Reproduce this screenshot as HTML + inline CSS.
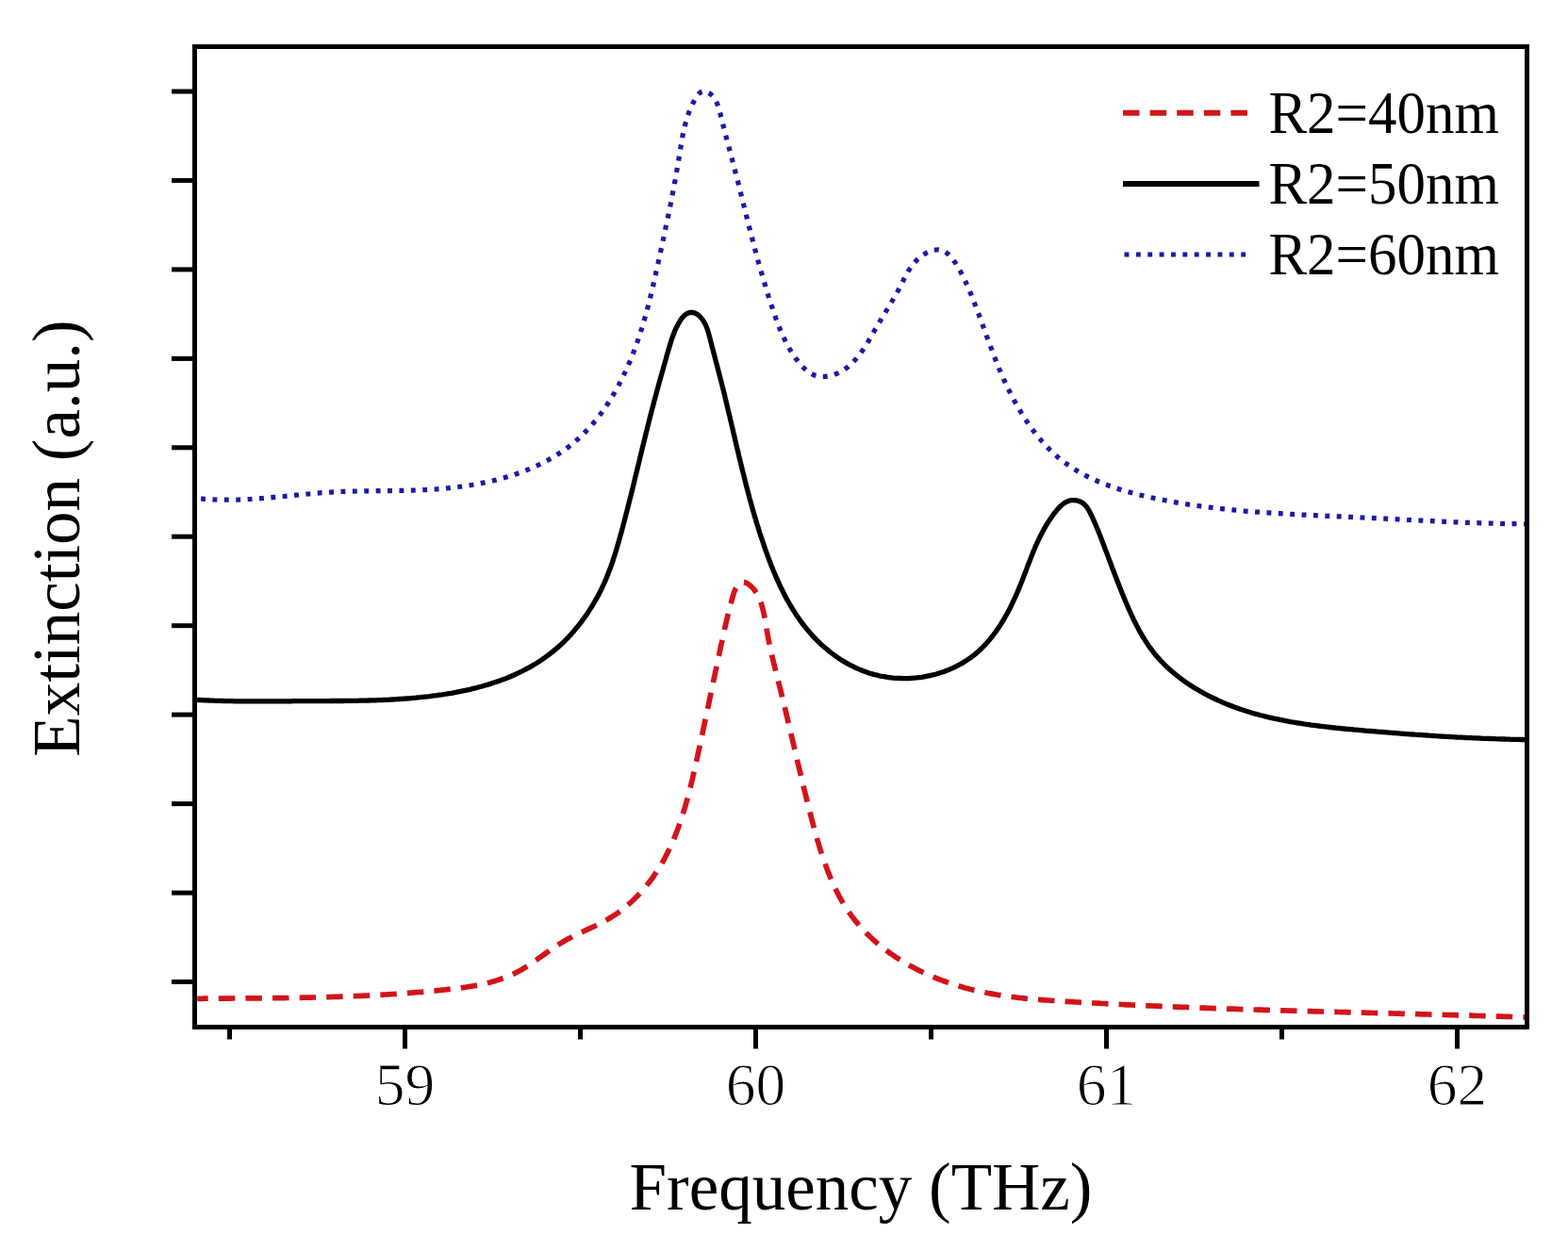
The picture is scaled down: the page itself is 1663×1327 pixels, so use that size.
<!DOCTYPE html>
<html><head><meta charset="utf-8"><title>Extinction vs Frequency</title>
<style>html,body{margin:0;padding:0;background:#fff;}body{width:1663px;height:1327px;overflow:hidden;}svg{display:block;}</style>
</head><body>
<svg width="1663" height="1327" viewBox="0 0 1663 1327">
<rect width="1663" height="1327" fill="#fff"/>
<g fill="none" stroke-linejoin="round">
<path d="M209.2 1059.3L211.6 1059.3 214.1 1059.3 216.6 1059.2 219.1 1059.2 221.5 1059.2 224.0 1059.2 226.5 1059.2 229.0 1059.2 231.5 1059.1 234.0 1059.1 236.4 1059.1 238.9 1059.1 241.4 1059.1 243.9 1059.1 246.4 1059.0 248.9 1059.0 251.4 1059.0 253.9 1059.0 256.4 1059.0 258.9 1059.0 261.4 1058.9 263.9 1058.9 266.4 1058.9 268.9 1058.9 271.4 1058.9 273.9 1058.8 276.4 1058.8 278.9 1058.8 281.4 1058.8 283.9 1058.7 286.4 1058.7 288.9 1058.7 291.4 1058.7 293.9 1058.6 296.4 1058.6 298.9 1058.6 301.4 1058.6 303.9 1058.5 306.4 1058.5 308.9 1058.4 311.4 1058.4 313.9 1058.4 316.4 1058.3 318.9 1058.3 321.4 1058.2 323.9 1058.2 326.4 1058.1 328.9 1058.1 331.5 1058.0 334.0 1058.0 336.5 1057.9 339.0 1057.9 341.5 1057.8 344.0 1057.7 346.5 1057.7 349.0 1057.6 351.5 1057.5 354.0 1057.4 356.4 1057.4 358.9 1057.3 361.4 1057.2 363.9 1057.1 366.4 1057.0 368.9 1056.9 371.4 1056.8 373.9 1056.7 376.4 1056.6 378.9 1056.5 381.4 1056.4 383.9 1056.3 386.4 1056.2 388.9 1056.1 391.4 1056.0 393.8 1055.8 396.3 1055.7 398.8 1055.6 401.3 1055.4 403.8 1055.3 406.3 1055.1 408.8 1055.0 411.3 1054.8 413.8 1054.7 416.3 1054.5 418.8 1054.4 421.3 1054.2 423.8 1054.0 426.2 1053.9 428.7 1053.7 431.2 1053.5 433.7 1053.3 436.2 1053.1 438.7 1052.9 441.2 1052.7 443.7 1052.5 446.2 1052.3 448.7 1052.1 451.2 1051.9 453.7 1051.7 456.2 1051.4 458.7 1051.2 461.3 1051.0 463.8 1050.7 466.3 1050.5 468.8 1050.2 471.3 1050.0 473.8 1049.7 476.3 1049.4 478.8 1049.2 481.3 1048.9 483.9 1048.6 486.4 1048.3 488.9 1047.9 491.4 1047.6 493.9 1047.2 496.3 1046.8 498.8 1046.4 501.3 1046.0 503.8 1045.6 506.2 1045.1 508.7 1044.6 511.1 1044.1 513.6 1043.6 516.0 1043.0 518.4 1042.4 520.8 1041.7 523.2 1041.1 525.6 1040.4 527.9 1039.6 530.3 1038.8 532.6 1038.0 534.9 1037.2 537.2 1036.3 539.5 1035.3 541.8 1034.4 544.0 1033.3 546.2 1032.3 548.4 1031.1 550.6 1030.0 552.8 1028.8 554.9 1027.5 557.1 1026.2 559.2 1024.9 561.3 1023.5 563.4 1022.1 565.5 1020.7 567.5 1019.2 569.6 1017.8 571.7 1016.3 573.7 1014.9 575.8 1013.4 577.8 1011.9 579.9 1010.4 582.0 1009.0 584.0 1007.5 586.1 1006.1 588.2 1004.7 590.3 1003.3 592.4 1001.9 594.5 1000.6 596.7 999.3 598.8 998.0 601.0 996.8 603.2 995.6 605.4 994.5 607.6 993.3 609.8 992.2 612.0 991.2 614.3 990.1 616.5 989.0 618.7 988.0 621.0 986.9 623.2 985.9 625.4 984.9 627.7 983.8 629.9 982.8 632.1 981.7 634.3 980.6 636.5 979.5 638.7 978.4 640.9 977.2 643.1 976.0 645.2 974.8 647.3 973.5 649.4 972.2 651.5 970.9 653.6 969.5 655.6 968.1 657.6 966.6 659.6 965.1 661.6 963.6 663.5 962.0 665.4 960.4 667.3 958.7 669.2 957.0 671.0 955.3 672.8 953.6 674.6 951.8 676.4 950.0 678.1 948.2 679.8 946.4 681.5 944.5 683.1 942.6 684.7 940.7 686.3 938.7 687.8 936.8 689.4 934.8 690.9 932.8 692.3 930.8 693.7 928.7 695.1 926.7 696.5 924.6 697.8 922.6 699.1 920.5 700.4 918.4 701.7 916.2 702.9 914.1 704.1 912.0 705.3 909.8 706.4 907.6 707.5 905.4 708.6 903.2 709.7 901.0 710.8 898.8 711.8 896.5 712.8 894.3 713.8 892.0 714.7 889.8 715.7 887.5 716.6 885.2 717.5 882.9 718.4 880.6 719.3 878.2 720.1 875.9 720.9 873.6 721.7 871.2 722.5 868.9 723.3 866.5 724.1 864.1 724.8 861.7 725.5 859.3 726.3 856.9 727.0 854.5 727.7 852.1 728.3 849.7 729.0 847.3 729.7 844.9 730.3 842.4 730.9 840.0 731.6 837.6 732.2 835.1 732.8 832.7 733.4 830.2 734.0 827.8 734.6 825.3 735.1 822.8 735.7 820.4 736.3 817.9 736.8 815.4 737.4 813.0 737.9 810.5 738.5 808.0 739.0 805.6 739.6 803.1 740.1 800.6 740.6 798.1 741.2 795.7 741.7 793.2 742.2 790.7 742.8 788.3 743.3 785.8 743.8 783.3 744.4 780.9 744.9 778.4 745.4 775.9 745.9 773.5 746.5 771.0 747.0 768.5 747.5 766.1 748.0 763.6 748.6 761.2 749.1 758.7 749.6 756.2 750.1 753.8 750.6 751.3 751.2 748.9 751.7 746.4 752.2 744.0 752.7 741.5 753.2 739.1 753.7 736.7 754.2 734.2 754.8 731.8 755.3 729.3 755.8 726.9 756.3 724.5 756.8 722.0 757.3 719.6 757.8 717.2 758.3 714.8 758.8 712.3 759.4 709.9 759.9 707.5 760.4 705.1 760.9 702.7 761.4 700.3 761.9 697.9 762.4 695.5 762.9 693.1 763.4 690.7 763.9 688.3 764.4 685.9 764.9 683.5 765.5 681.1 766.0 678.7 766.5 676.3 767.0 674.0 767.5 671.6 768.1 669.1 768.6 666.7 769.2 664.3 769.7 661.9 770.3 659.4 770.9 657.0 771.5 654.5 772.1 652.0 772.7 649.5 773.4 647.0 774.0 644.4 774.7 641.9 775.4 639.3 776.1 636.7 776.8 634.0 777.6 631.4 778.4 628.8 779.4 626.3 780.5 623.9 781.8 621.8 783.4 619.9 785.2 618.4 787.1 617.5 789.2 617.5 791.2 618.2 793.2 619.3 795.1 620.7 796.8 622.2 798.4 623.8 799.9 625.6 801.2 627.4 802.5 629.3 803.6 631.4 804.7 633.5 805.6 635.7 806.5 638.0 807.3 640.3 808.1 642.7 808.8 645.2 809.4 647.7 810.0 650.3 810.5 652.8 811.0 655.4 811.5 658.1 812.0 660.7 812.4 663.4 812.9 666.0 813.3 668.7 813.8 671.3 814.2 673.9 814.7 676.5 815.2 679.1 815.7 681.6 816.2 684.2 816.8 686.7 817.3 689.2 817.9 691.7 818.4 694.2 819.0 696.7 819.6 699.1 820.2 701.6 820.8 704.0 821.4 706.4 822.0 708.9 822.6 711.3 823.2 713.7 823.8 716.1 824.4 718.5 825.0 720.9 825.6 723.3 826.2 725.7 826.8 728.1 827.4 730.4 828.0 732.8 828.6 735.2 829.2 737.6 829.8 740.0 830.4 742.4 831.0 744.8 831.5 747.2 832.1 749.6 832.7 752.0 833.3 754.4 833.8 756.8 834.4 759.2 835.0 761.5 835.5 763.9 836.1 766.3 836.7 768.7 837.3 771.1 837.8 773.5 838.4 775.9 838.9 778.3 839.5 780.7 840.1 783.1 840.6 785.5 841.2 787.9 841.8 790.3 842.3 792.8 842.9 795.2 843.5 797.6 844.0 800.0 844.6 802.4 845.2 804.8 845.7 807.2 846.3 809.6 846.9 812.0 847.4 814.5 848.0 816.9 848.6 819.3 849.2 821.7 849.7 824.1 850.3 826.6 850.9 829.0 851.5 831.4 852.1 833.8 852.7 836.3 853.3 838.7 853.9 841.1 854.5 843.6 855.1 846.0 855.7 848.5 856.3 850.9 856.9 853.3 857.5 855.8 858.1 858.2 858.8 860.7 859.4 863.1 860.0 865.6 860.7 868.0 861.3 870.5 862.0 873.0 862.6 875.4 863.3 877.9 863.9 880.3 864.6 882.8 865.3 885.3 866.0 887.7 866.7 890.2 867.4 892.6 868.2 895.1 868.9 897.5 869.6 899.9 870.4 902.4 871.2 904.8 872.0 907.2 872.8 909.6 873.6 912.0 874.4 914.4 875.3 916.8 876.1 919.2 877.0 921.5 877.9 923.9 878.8 926.2 879.8 928.5 880.7 930.9 881.7 933.2 882.7 935.5 883.7 937.7 884.8 940.0 885.8 942.3 886.9 944.5 888.0 946.7 889.2 948.9 890.3 951.1 891.5 953.3 892.7 955.4 894.0 957.5 895.2 959.6 896.5 961.7 897.9 963.8 899.2 965.8 900.6 967.9 902.0 969.9 903.4 971.9 904.9 973.8 906.4 975.7 907.9 977.7 909.5 979.5 911.1 981.4 912.7 983.2 914.3 985.1 916.0 986.9 917.7 988.6 919.4 990.4 921.2 992.1 923.0 993.8 924.8 995.5 926.6 997.2 928.4 998.8 930.3 1000.4 932.2 1002.0 934.1 1003.6 936.1 1005.1 938.0 1006.7 940.0 1008.2 942.0 1009.6 944.0 1011.1 946.1 1012.5 948.1 1013.9 950.2 1015.3 952.3 1016.7 954.4 1018.0 956.5 1019.3 958.7 1020.6 960.9 1021.9 963.0 1023.2 965.2 1024.4 967.4 1025.6 969.7 1026.8 971.9 1028.0 974.2 1029.1 976.4 1030.2 978.7 1031.3 981.0 1032.4 983.3 1033.4 985.6 1034.5 987.9 1035.5 990.2 1036.5 992.6 1037.4 994.9 1038.4 997.3 1039.3 999.7 1040.2 1002.0 1041.0 1004.4 1041.9 1006.8 1042.7 1009.2 1043.5 1011.6 1044.3 1014.0 1045.1 1016.4 1045.8 1018.8 1046.5 1021.3 1047.2 1023.7 1047.9 1026.1 1048.5 1028.5 1049.2 1031.0 1049.8 1033.4 1050.4 1035.9 1050.9 1038.3 1051.5 1040.7 1052.0 1043.2 1052.5 1045.6 1053.0 1048.1 1053.5 1050.5 1053.9 1053.0 1054.4 1055.5 1054.8 1057.9 1055.2 1060.4 1055.6 1062.9 1056.0 1065.3 1056.3 1067.8 1056.7 1070.3 1057.0 1072.8 1057.4 1075.2 1057.7 1077.7 1058.0 1080.2 1058.3 1082.7 1058.5 1085.2 1058.8 1087.6 1059.1 1090.1 1059.3 1092.6 1059.5 1095.1 1059.8 1097.6 1060.0 1100.1 1060.2 1102.6 1060.4 1105.1 1060.6 1107.6 1060.8 1110.1 1061.0 1112.6 1061.2 1115.1 1061.3 1117.6 1061.5 1120.1 1061.7 1122.5 1061.8 1125.0 1062.0 1127.5 1062.1 1130.0 1062.3 1132.5 1062.4 1135.0 1062.6 1137.5 1062.7 1140.0 1062.9 1142.5 1063.0 1145.0 1063.2 1147.5 1063.3 1150.0 1063.4 1152.5 1063.6 1155.0 1063.7 1157.5 1063.8 1160.0 1064.0 1162.5 1064.1 1165.0 1064.2 1167.5 1064.4 1170.0 1064.5 1172.5 1064.6 1175.0 1064.8 1177.5 1064.9 1180.0 1065.0 1182.5 1065.1 1185.0 1065.3 1187.5 1065.4 1190.0 1065.5 1192.5 1065.6 1195.0 1065.8 1197.5 1065.9 1200.0 1066.0 1202.5 1066.1 1205.0 1066.2 1207.5 1066.3 1210.0 1066.5 1212.5 1066.6 1215.0 1066.7 1217.5 1066.8 1220.0 1066.9 1222.5 1067.0 1225.0 1067.1 1227.5 1067.2 1230.0 1067.3 1232.5 1067.4 1235.0 1067.5 1237.5 1067.6 1240.0 1067.8 1242.5 1067.9 1245.0 1068.0 1247.5 1068.1 1250.0 1068.2 1252.5 1068.3 1255.0 1068.4 1257.5 1068.4 1260.0 1068.5 1262.5 1068.6 1265.0 1068.7 1267.5 1068.8 1270.0 1068.9 1272.5 1069.0 1274.9 1069.1 1277.4 1069.2 1279.9 1069.3 1282.4 1069.4 1284.9 1069.5 1287.4 1069.6 1289.9 1069.6 1292.4 1069.7 1294.9 1069.8 1297.4 1069.9 1299.9 1070.0 1302.4 1070.1 1304.9 1070.2 1307.4 1070.2 1309.9 1070.3 1312.4 1070.4 1314.9 1070.5 1317.4 1070.6 1319.9 1070.6 1322.4 1070.7 1324.9 1070.8 1327.4 1070.9 1329.9 1071.0 1332.4 1071.0 1334.9 1071.1 1337.4 1071.2 1339.9 1071.3 1342.4 1071.3 1344.9 1071.4 1347.4 1071.5 1349.9 1071.6 1352.4 1071.6 1354.9 1071.7 1357.4 1071.8 1359.9 1071.9 1362.4 1071.9 1364.9 1072.0 1367.4 1072.1 1369.9 1072.1 1372.4 1072.2 1374.9 1072.3 1377.4 1072.4 1379.9 1072.4 1382.4 1072.5 1384.9 1072.6 1387.4 1072.6 1389.9 1072.7 1392.4 1072.8 1394.9 1072.8 1397.4 1072.9 1399.9 1073.0 1402.4 1073.0 1404.9 1073.1 1407.4 1073.2 1409.9 1073.2 1412.4 1073.3 1414.9 1073.4 1417.4 1073.4 1419.9 1073.5 1422.4 1073.6 1424.9 1073.6 1427.4 1073.7 1429.8 1073.8 1432.3 1073.8 1434.8 1073.9 1437.3 1074.0 1439.8 1074.0 1442.3 1074.1 1444.8 1074.2 1447.3 1074.2 1449.8 1074.3 1452.3 1074.4 1454.8 1074.4 1457.3 1074.5 1459.8 1074.6 1462.3 1074.6 1464.8 1074.7 1467.3 1074.7 1469.8 1074.8 1472.3 1074.9 1474.8 1074.9 1477.3 1075.0 1479.8 1075.1 1482.3 1075.1 1484.8 1075.2 1487.3 1075.3 1489.8 1075.3 1492.3 1075.4 1494.8 1075.5 1497.3 1075.5 1499.8 1075.6 1502.3 1075.7 1504.8 1075.7 1507.3 1075.8 1509.8 1075.9 1512.3 1075.9 1514.8 1076.0 1517.3 1076.1 1519.8 1076.1 1522.3 1076.2 1524.8 1076.3 1527.3 1076.3 1529.8 1076.4 1532.3 1076.5 1534.8 1076.5 1537.3 1076.6 1539.8 1076.7 1542.3 1076.7 1544.8 1076.8 1547.3 1076.9 1549.8 1077.0 1552.3 1077.0 1554.8 1077.1 1557.3 1077.2 1559.8 1077.2 1562.3 1077.3 1564.8 1077.4 1567.3 1077.5 1569.8 1077.5 1572.3 1077.6 1574.8 1077.7 1577.3 1077.8 1579.8 1077.8 1582.3 1077.9 1584.8 1078.0 1587.3 1078.1 1589.8 1078.1 1592.3 1078.2 1594.8 1078.3 1597.4 1078.4 1599.9 1078.4 1602.4 1078.5 1604.9 1078.6 1607.4 1078.7 1609.9 1078.8 1612.4 1078.9 1614.9 1078.9 1617.1 1079.0" stroke="#d2141a" stroke-width="5.7" stroke-dasharray="17.5 11.1" stroke-dashoffset="6"/>
<path d="M209.1 742.4L211.5 742.5 214.0 742.6 216.4 742.8 218.9 742.9 221.4 743.0 223.8 743.1 226.3 743.2 228.8 743.3 231.3 743.4 233.7 743.4 236.2 743.5 238.7 743.6 241.2 743.6 243.7 743.7 246.2 743.7 248.7 743.8 251.1 743.8 253.6 743.8 256.1 743.9 258.6 743.9 261.1 743.9 263.6 743.9 266.2 743.9 268.7 743.9 271.2 743.9 273.7 743.9 276.2 743.9 278.7 743.9 281.2 743.9 283.7 743.9 286.2 743.9 288.7 743.9 291.2 743.9 293.8 743.9 296.3 743.9 298.8 743.8 301.3 743.8 303.8 743.8 306.3 743.8 308.8 743.8 311.3 743.7 313.9 743.7 316.4 743.7 318.9 743.7 321.4 743.7 323.9 743.7 326.4 743.6 328.9 743.6 331.4 743.6 333.9 743.6 336.4 743.6 338.9 743.6 341.4 743.6 343.9 743.6 346.4 743.6 348.9 743.6 351.4 743.5 353.9 743.5 356.4 743.5 358.9 743.5 361.3 743.5 363.8 743.5 366.3 743.4 368.8 743.4 371.3 743.4 373.8 743.3 376.3 743.3 378.8 743.3 381.3 743.2 383.7 743.2 386.2 743.1 388.7 743.1 391.2 743.0 393.7 742.9 396.2 742.8 398.7 742.8 401.2 742.7 403.6 742.6 406.1 742.5 408.6 742.4 411.1 742.3 413.6 742.1 416.1 742.0 418.6 741.9 421.1 741.7 423.6 741.5 426.1 741.4 428.5 741.2 431.0 741.0 433.5 740.8 436.0 740.6 438.5 740.4 441.0 740.2 443.5 739.9 446.0 739.7 448.5 739.4 451.0 739.1 453.5 738.9 456.0 738.6 458.5 738.2 461.0 737.9 463.5 737.6 466.0 737.2 468.5 736.9 471.0 736.5 473.5 736.1 476.0 735.7 478.5 735.3 481.0 734.8 483.5 734.4 486.0 733.9 488.4 733.4 490.9 732.9 493.4 732.4 495.9 731.8 498.3 731.3 500.8 730.7 503.2 730.1 505.7 729.5 508.1 728.8 510.5 728.2 512.9 727.5 515.3 726.8 517.7 726.1 520.1 725.4 522.5 724.6 524.9 723.8 527.2 723.0 529.6 722.2 531.9 721.3 534.3 720.5 536.6 719.6 538.9 718.7 541.2 717.7 543.5 716.7 545.7 715.8 548.0 714.7 550.2 713.7 552.4 712.6 554.6 711.5 556.8 710.4 559.0 709.2 561.2 708.1 563.3 706.9 565.4 705.6 567.6 704.4 569.6 703.1 571.7 701.8 573.8 700.4 575.8 699.0 577.8 697.6 579.8 696.2 581.8 694.7 583.8 693.2 585.7 691.7 587.6 690.1 589.5 688.5 591.4 686.9 593.2 685.3 595.1 683.6 596.9 681.9 598.7 680.1 600.4 678.4 602.2 676.6 603.9 674.8 605.6 672.9 607.2 671.0 608.9 669.2 610.5 667.2 612.1 665.3 613.7 663.3 615.2 661.4 616.8 659.4 618.3 657.3 619.7 655.3 621.2 653.2 622.6 651.2 624.0 649.1 625.4 646.9 626.8 644.8 628.1 642.7 629.4 640.5 630.7 638.3 631.9 636.1 633.2 633.9 634.4 631.7 635.5 629.5 636.7 627.2 637.8 625.0 638.9 622.7 639.9 620.5 641.0 618.2 642.0 615.9 643.0 613.6 643.9 611.3 644.8 609.0 645.7 606.6 646.6 604.3 647.5 602.0 648.3 599.6 649.2 597.3 650.0 594.9 650.7 592.6 651.5 590.2 652.3 587.8 653.0 585.5 653.7 583.1 654.4 580.7 655.1 578.3 655.8 575.9 656.5 573.5 657.2 571.1 657.8 568.7 658.5 566.3 659.2 563.9 659.8 561.5 660.5 559.1 661.1 556.7 661.7 554.3 662.4 551.8 663.0 549.4 663.6 547.0 664.3 544.6 664.9 542.2 665.5 539.7 666.1 537.3 666.7 534.9 667.3 532.5 667.9 530.0 668.6 527.6 669.2 525.2 669.8 522.7 670.4 520.3 671.0 517.9 671.6 515.4 672.2 513.0 672.7 510.6 673.3 508.1 673.9 505.7 674.5 503.3 675.1 500.8 675.7 498.4 676.3 496.0 676.9 493.5 677.5 491.1 678.1 488.6 678.6 486.2 679.2 483.8 679.8 481.3 680.4 478.9 681.0 476.5 681.6 474.0 682.2 471.6 682.8 469.2 683.4 466.7 684.0 464.3 684.6 461.9 685.2 459.5 685.8 457.0 686.4 454.6 687.0 452.2 687.6 449.8 688.2 447.3 688.8 444.9 689.4 442.5 690.1 440.1 690.7 437.7 691.3 435.2 691.9 432.8 692.6 430.4 693.2 428.0 693.8 425.6 694.5 423.2 695.1 420.8 695.8 418.4 696.4 416.0 697.1 413.6 697.7 411.2 698.4 408.8 699.0 406.4 699.7 404.0 700.4 401.6 701.0 399.2 701.7 396.8 702.4 394.4 703.1 392.0 703.7 389.6 704.4 387.2 705.1 384.8 705.8 382.4 706.5 380.0 707.1 377.6 707.8 375.2 708.5 372.8 709.2 370.4 709.9 368.0 710.6 365.6 711.4 363.2 712.1 360.8 712.9 358.4 713.8 356.0 714.7 353.7 715.6 351.3 716.6 349.0 717.7 346.7 718.9 344.4 720.2 342.2 721.5 340.0 723.0 337.8 724.6 335.9 726.3 334.2 728.3 332.8 730.4 331.9 732.6 331.4 734.8 331.5 737.0 332.1 739.1 333.2 741.1 334.7 742.9 336.5 744.6 338.4 746.0 340.4 747.3 342.6 748.4 344.8 749.4 347.2 750.3 349.5 751.1 352.0 751.8 354.4 752.4 356.9 753.1 359.4 753.7 361.9 754.4 364.3 755.0 366.8 755.6 369.3 756.3 371.7 756.9 374.2 757.5 376.6 758.2 379.0 758.8 381.4 759.4 383.9 760.1 386.3 760.7 388.7 761.3 391.1 762.0 393.5 762.6 395.9 763.2 398.3 763.8 400.7 764.4 403.1 765.1 405.5 765.7 407.9 766.3 410.3 766.9 412.7 767.5 415.1 768.1 417.5 768.7 419.9 769.2 422.3 769.8 424.7 770.4 427.1 771.0 429.6 771.6 432.0 772.1 434.4 772.7 436.8 773.3 439.2 773.9 441.6 774.4 444.1 775.0 446.5 775.6 448.9 776.1 451.3 776.7 453.7 777.3 456.2 777.8 458.6 778.4 461.0 779.0 463.4 779.5 465.9 780.1 468.3 780.7 470.7 781.2 473.2 781.8 475.6 782.4 478.0 783.0 480.4 783.5 482.9 784.1 485.3 784.7 487.7 785.3 490.1 785.9 492.6 786.5 495.0 787.1 497.4 787.7 499.8 788.3 502.3 788.9 504.7 789.5 507.1 790.1 509.5 790.7 512.0 791.3 514.4 791.9 516.8 792.6 519.2 793.2 521.6 793.8 524.1 794.5 526.5 795.1 528.9 795.8 531.3 796.5 533.7 797.1 536.1 797.8 538.5 798.5 541.0 799.2 543.4 799.9 545.8 800.6 548.2 801.3 550.6 802.0 553.0 802.7 555.4 803.5 557.8 804.2 560.2 805.0 562.6 805.7 565.0 806.5 567.4 807.3 569.7 808.1 572.1 808.9 574.5 809.7 576.9 810.5 579.3 811.3 581.6 812.1 584.0 813.0 586.4 813.9 588.8 814.7 591.1 815.6 593.5 816.5 595.8 817.4 598.2 818.3 600.5 819.3 602.9 820.2 605.2 821.2 607.5 822.2 609.8 823.1 612.2 824.2 614.5 825.2 616.7 826.2 619.0 827.3 621.3 828.4 623.6 829.5 625.8 830.6 628.0 831.7 630.3 832.9 632.5 834.0 634.7 835.2 636.9 836.5 639.0 837.7 641.2 839.0 643.3 840.2 645.4 841.6 647.6 842.9 649.6 844.2 651.7 845.6 653.8 847.0 655.8 848.4 657.8 849.9 659.8 851.4 661.8 852.9 663.8 854.4 665.7 856.0 667.6 857.6 669.5 859.2 671.4 860.8 673.3 862.5 675.1 864.2 676.9 865.9 678.7 867.7 680.4 869.5 682.2 871.3 683.9 873.2 685.6 875.1 687.2 877.0 688.8 878.9 690.4 880.9 692.0 882.9 693.5 884.9 695.0 886.9 696.4 889.0 697.9 891.1 699.2 893.2 700.6 895.4 701.9 897.5 703.2 899.7 704.4 901.9 705.6 904.2 706.7 906.4 707.8 908.7 708.9 911.0 709.9 913.3 710.8 915.6 711.8 918.0 712.6 920.3 713.4 922.7 714.2 925.1 714.9 927.5 715.6 930.0 716.2 932.4 716.8 934.9 717.3 937.4 717.7 939.8 718.1 942.3 718.5 944.8 718.8 947.3 719.1 949.8 719.3 952.4 719.4 954.9 719.5 957.4 719.6 959.9 719.6 962.4 719.6 965.0 719.5 967.5 719.3 970.0 719.1 972.5 718.9 975.0 718.6 977.5 718.3 980.0 717.9 982.4 717.4 984.9 716.9 987.4 716.4 989.8 715.8 992.2 715.2 994.6 714.5 997.0 713.8 999.4 713.0 1001.8 712.2 1004.1 711.3 1006.4 710.4 1008.7 709.4 1011.0 708.4 1013.2 707.3 1015.4 706.2 1017.6 705.0 1019.8 703.8 1021.9 702.6 1024.0 701.3 1026.0 699.9 1028.1 698.5 1030.1 697.1 1032.0 695.6 1034.0 694.1 1035.9 692.5 1037.7 690.9 1039.5 689.2 1041.3 687.5 1043.0 685.7 1044.8 684.0 1046.4 682.1 1048.1 680.3 1049.7 678.4 1051.3 676.4 1052.8 674.5 1054.3 672.5 1055.8 670.5 1057.3 668.4 1058.7 666.3 1060.1 664.2 1061.5 662.1 1062.8 660.0 1064.1 657.8 1065.4 655.6 1066.7 653.4 1067.9 651.2 1069.1 648.9 1070.3 646.7 1071.5 644.4 1072.6 642.1 1073.7 639.8 1074.8 637.5 1075.9 635.2 1077.0 632.9 1078.0 630.5 1079.0 628.2 1080.0 625.9 1081.0 623.6 1081.9 621.2 1082.9 618.9 1083.8 616.6 1084.7 614.2 1085.6 611.9 1086.5 609.6 1087.4 607.3 1088.3 605.0 1089.1 602.6 1090.0 600.3 1090.9 598.0 1091.8 595.7 1092.7 593.4 1093.6 591.1 1094.5 588.8 1095.4 586.6 1096.3 584.3 1097.3 582.0 1098.2 579.7 1099.2 577.5 1100.3 575.2 1101.3 573.0 1102.4 570.7 1103.5 568.5 1104.6 566.3 1105.8 564.1 1106.9 561.9 1108.2 559.7 1109.4 557.5 1110.7 555.4 1112.1 553.2 1113.5 551.1 1114.9 549.0 1116.4 546.9 1117.9 544.9 1119.5 542.8 1121.1 540.8 1122.8 538.9 1124.5 537.1 1126.4 535.5 1128.3 534.0 1130.2 532.8 1132.3 531.8 1134.5 531.0 1136.8 530.6 1139.2 530.6 1141.6 530.9 1144.1 531.5 1146.5 532.5 1148.6 533.8 1150.5 535.5 1152.2 537.3 1153.6 539.3 1154.9 541.5 1156.1 543.8 1157.2 546.1 1158.3 548.3 1159.4 550.6 1160.4 552.9 1161.4 555.2 1162.4 557.4 1163.3 559.7 1164.3 562.0 1165.2 564.3 1166.1 566.6 1167.0 568.8 1167.9 571.1 1168.7 573.4 1169.6 575.7 1170.5 578.0 1171.4 580.3 1172.2 582.6 1173.1 584.9 1174.0 587.3 1174.9 589.6 1175.7 591.9 1176.6 594.2 1177.5 596.5 1178.4 598.9 1179.2 601.2 1180.1 603.5 1181.0 605.8 1181.9 608.2 1182.8 610.5 1183.7 612.8 1184.6 615.2 1185.5 617.5 1186.4 619.8 1187.3 622.2 1188.3 624.5 1189.2 626.8 1190.1 629.2 1191.1 631.5 1192.0 633.8 1193.0 636.1 1193.9 638.5 1194.9 640.8 1195.9 643.1 1196.9 645.4 1197.9 647.7 1199.0 650.0 1200.0 652.3 1201.1 654.5 1202.1 656.8 1203.2 659.1 1204.4 661.3 1205.5 663.5 1206.7 665.7 1207.8 667.9 1209.0 670.1 1210.3 672.3 1211.5 674.4 1212.8 676.6 1214.1 678.7 1215.5 680.8 1216.8 682.8 1218.2 684.9 1219.6 686.9 1221.1 688.9 1222.6 690.9 1224.1 692.8 1225.7 694.8 1227.3 696.7 1228.9 698.5 1230.6 700.4 1232.3 702.2 1234.1 704.0 1235.8 705.8 1237.6 707.5 1239.5 709.2 1241.3 710.9 1243.2 712.5 1245.2 714.1 1247.1 715.7 1249.1 717.3 1251.1 718.9 1253.1 720.4 1255.2 721.9 1257.2 723.3 1259.3 724.8 1261.4 726.2 1263.5 727.5 1265.7 728.9 1267.8 730.2 1270.0 731.5 1272.2 732.8 1274.4 734.0 1276.6 735.3 1278.8 736.5 1281.0 737.6 1283.3 738.8 1285.5 739.9 1287.8 741.0 1290.0 742.0 1292.3 743.1 1294.6 744.1 1296.8 745.1 1299.1 746.1 1301.4 747.0 1303.8 747.9 1306.1 748.8 1308.4 749.7 1310.7 750.6 1313.1 751.4 1315.4 752.2 1317.8 753.0 1320.1 753.8 1322.5 754.5 1324.8 755.3 1327.2 756.0 1329.6 756.7 1332.0 757.4 1334.4 758.0 1336.8 758.7 1339.2 759.3 1341.6 759.9 1344.0 760.5 1346.4 761.1 1348.9 761.6 1351.3 762.2 1353.7 762.7 1356.2 763.2 1358.6 763.7 1361.1 764.2 1363.5 764.7 1366.0 765.1 1368.4 765.6 1370.9 766.0 1373.4 766.4 1375.8 766.8 1378.3 767.2 1380.8 767.6 1383.3 768.0 1385.7 768.4 1388.2 768.7 1390.7 769.1 1393.2 769.4 1395.7 769.7 1398.2 770.0 1400.7 770.3 1403.2 770.6 1405.7 770.9 1408.2 771.2 1410.7 771.5 1413.2 771.8 1415.7 772.0 1418.2 772.3 1420.7 772.5 1423.2 772.8 1425.7 773.0 1428.2 773.3 1430.7 773.5 1433.2 773.7 1435.7 774.0 1438.2 774.2 1440.7 774.4 1443.2 774.6 1445.7 774.8 1448.2 775.1 1450.7 775.3 1453.2 775.5 1455.7 775.7 1458.2 775.9 1460.7 776.1 1463.2 776.3 1465.7 776.5 1468.2 776.7 1470.6 776.9 1473.1 777.1 1475.6 777.3 1478.1 777.5 1480.6 777.7 1483.1 777.9 1485.6 778.1 1488.1 778.3 1490.5 778.5 1493.0 778.6 1495.5 778.8 1498.0 779.0 1500.5 779.2 1503.0 779.3 1505.5 779.5 1507.9 779.7 1510.4 779.9 1512.9 780.0 1515.4 780.2 1517.9 780.3 1520.4 780.5 1522.8 780.7 1525.3 780.8 1527.8 781.0 1530.3 781.1 1532.8 781.3 1535.2 781.4 1537.7 781.5 1540.2 781.7 1542.7 781.8 1545.2 782.0 1547.7 782.1 1550.2 782.2 1552.6 782.3 1555.1 782.5 1557.6 782.6 1560.1 782.7 1562.6 782.8 1565.1 782.9 1567.6 783.0 1570.1 783.1 1572.5 783.3 1575.0 783.4 1577.5 783.4 1580.0 783.5 1582.5 783.6 1585.0 783.7 1587.5 783.8 1590.0 783.9 1592.5 784.0 1595.0 784.0 1597.5 784.1 1600.0 784.2 1602.5 784.3 1605.0 784.3 1607.5 784.4 1610.0 784.4 1612.5 784.5 1615.0 784.5 1617.0 784.6" stroke="#000" stroke-width="5.3"/>
<path d="M208.9 528.5L211.4 528.8 213.9 529.0 216.4 529.3 218.9 529.5 221.4 529.6 223.9 529.8 226.4 529.9 228.9 530.0 231.4 530.1 233.9 530.2 236.4 530.2 238.9 530.2 241.4 530.2 243.9 530.2 246.4 530.2 248.9 530.1 251.4 530.1 253.9 530.0 256.4 529.9 258.9 529.8 261.4 529.7 263.9 529.5 266.4 529.4 268.9 529.2 271.4 529.1 273.9 528.9 276.4 528.7 279.0 528.5 281.5 528.3 284.0 528.1 286.5 527.9 289.0 527.6 291.5 527.4 294.0 527.2 296.5 526.9 299.0 526.7 301.5 526.5 304.0 526.2 306.5 526.0 309.0 525.7 311.5 525.5 314.0 525.2 316.5 525.0 319.0 524.7 321.5 524.5 324.0 524.3 326.5 524.0 329.0 523.8 331.5 523.6 334.0 523.4 336.5 523.1 339.0 522.9 341.5 522.7 344.0 522.6 346.5 522.4 349.0 522.2 351.4 522.1 353.9 521.9 356.4 521.8 358.9 521.7 361.4 521.5 363.9 521.4 366.3 521.3 368.8 521.3 371.3 521.2 373.8 521.1 376.3 521.1 378.7 521.0 381.2 520.9 383.7 520.9 386.2 520.9 388.6 520.8 391.1 520.8 393.6 520.8 396.1 520.7 398.6 520.7 401.0 520.7 403.5 520.7 406.0 520.6 408.5 520.6 410.9 520.6 413.4 520.6 415.9 520.5 418.4 520.5 420.9 520.5 423.4 520.4 425.8 520.4 428.3 520.3 430.8 520.3 433.3 520.2 435.8 520.2 438.3 520.1 440.8 520.0 443.3 519.9 445.8 519.8 448.3 519.7 450.8 519.6 453.3 519.4 455.8 519.3 458.3 519.1 460.8 519.0 463.3 518.8 465.9 518.6 468.4 518.4 470.9 518.2 473.4 517.9 475.9 517.7 478.5 517.4 481.0 517.1 483.5 516.8 486.0 516.5 488.6 516.2 491.1 515.8 493.6 515.5 496.1 515.1 498.6 514.7 501.1 514.3 503.6 513.8 506.1 513.4 508.6 512.9 511.1 512.4 513.6 511.9 516.1 511.4 518.6 510.8 521.1 510.3 523.5 509.7 526.0 509.1 528.4 508.4 530.9 507.8 533.3 507.1 535.7 506.4 538.1 505.7 540.5 505.0 542.9 504.2 545.3 503.5 547.7 502.7 550.1 501.8 552.4 501.0 554.7 500.1 557.1 499.2 559.4 498.3 561.7 497.4 564.0 496.4 566.2 495.4 568.5 494.4 570.7 493.4 572.9 492.3 575.2 491.2 577.3 490.1 579.5 488.9 581.7 487.8 583.8 486.6 585.9 485.4 588.0 484.1 590.1 482.8 592.2 481.5 594.2 480.2 596.3 478.8 598.3 477.4 600.3 476.0 602.2 474.6 604.2 473.1 606.1 471.6 608.0 470.0 609.9 468.5 611.7 466.9 613.5 465.3 615.4 463.6 617.1 461.9 618.9 460.2 620.6 458.4 622.3 456.7 624.0 454.9 625.7 453.0 627.3 451.2 629.0 449.3 630.5 447.4 632.1 445.5 633.7 443.5 635.2 441.6 636.7 439.6 638.2 437.5 639.7 435.5 641.1 433.5 642.5 431.4 643.9 429.3 645.3 427.2 646.7 425.0 648.0 422.9 649.3 420.7 650.6 418.5 651.9 416.4 653.1 414.1 654.4 411.9 655.6 409.7 656.8 407.4 657.9 405.2 659.1 402.9 660.2 400.6 661.3 398.3 662.4 396.0 663.5 393.7 664.6 391.4 665.6 389.1 666.6 386.7 667.6 384.4 668.6 382.1 669.6 379.7 670.5 377.4 671.4 375.0 672.3 372.6 673.2 370.3 674.1 367.9 675.0 365.6 675.8 363.2 676.6 360.8 677.4 358.4 678.2 356.1 679.0 353.7 679.7 351.3 680.5 348.9 681.2 346.6 681.9 344.2 682.6 341.8 683.3 339.4 684.0 337.0 684.7 334.6 685.3 332.3 686.0 329.9 686.6 327.5 687.3 325.1 687.9 322.7 688.5 320.3 689.1 317.9 689.7 315.5 690.3 313.1 690.9 310.7 691.4 308.3 692.0 305.9 692.6 303.5 693.1 301.0 693.7 298.6 694.2 296.2 694.8 293.8 695.3 291.4 695.8 289.0 696.4 286.5 696.9 284.1 697.4 281.7 698.0 279.3 698.5 276.8 699.0 274.4 699.5 272.0 700.1 269.5 700.6 267.1 701.1 264.7 701.7 262.2 702.2 259.8 702.7 257.3 703.2 254.9 703.8 252.4 704.3 250.0 704.8 247.5 705.3 245.1 705.8 242.6 706.3 240.2 706.9 237.7 707.4 235.3 707.9 232.8 708.4 230.4 708.9 227.9 709.4 225.5 709.9 223.0 710.4 220.5 710.9 218.1 711.4 215.6 711.9 213.2 712.3 210.7 712.8 208.2 713.3 205.8 713.8 203.3 714.2 200.8 714.7 198.4 715.2 195.9 715.6 193.4 716.1 191.0 716.5 188.5 717.0 186.0 717.4 183.5 717.8 181.1 718.3 178.6 718.7 176.1 719.1 173.7 719.5 171.2 719.9 168.7 720.3 166.2 720.7 163.8 721.1 161.3 721.5 158.8 721.9 156.3 722.3 153.9 722.7 151.4 723.1 148.9 723.6 146.5 724.0 144.0 724.5 141.6 725.0 139.1 725.6 136.7 726.2 134.2 726.8 131.8 727.4 129.4 728.1 126.9 728.9 124.5 729.7 122.1 730.5 119.7 731.4 117.3 732.4 114.9 733.5 112.6 734.6 110.2 735.8 107.8 737.0 105.5 738.4 103.2 739.8 101.0 741.4 99.1 743.2 97.7 745.2 97.0 747.4 96.9 749.7 97.5 751.9 98.6 753.9 100.0 755.6 101.7 757.2 103.5 758.6 105.6 759.7 107.9 760.8 110.3 761.7 112.8 762.5 115.4 763.3 118.1 764.0 120.8 764.6 123.4 765.3 126.1 765.9 128.7 766.6 131.3 767.2 133.8 767.9 136.4 768.5 138.9 769.2 141.3 769.8 143.8 770.4 146.2 771.1 148.6 771.7 151.0 772.3 153.4 772.9 155.8 773.6 158.2 774.2 160.5 774.8 162.8 775.4 165.2 776.0 167.5 776.7 169.9 777.3 172.2 777.9 174.5 778.5 176.9 779.1 179.2 779.7 181.6 780.3 184.0 780.9 186.3 781.6 188.7 782.2 191.1 782.8 193.5 783.4 196.0 784.0 198.4 784.6 200.8 785.2 203.3 785.8 205.7 786.4 208.2 787.0 210.6 787.7 213.1 788.3 215.5 788.9 218.0 789.5 220.5 790.1 222.9 790.7 225.4 791.3 227.9 792.0 230.3 792.6 232.8 793.2 235.2 793.8 237.7 794.4 240.1 795.0 242.6 795.7 245.0 796.3 247.4 796.9 249.9 797.5 252.3 798.2 254.7 798.8 257.1 799.4 259.5 800.1 262.0 800.7 264.4 801.3 266.8 802.0 269.2 802.6 271.6 803.3 274.0 803.9 276.4 804.6 278.8 805.3 281.2 805.9 283.6 806.6 286.0 807.3 288.3 808.0 290.7 808.7 293.1 809.3 295.5 810.0 297.9 810.8 300.3 811.5 302.6 812.2 305.0 812.9 307.4 813.6 309.8 814.4 312.1 815.1 314.5 815.9 316.9 816.6 319.2 817.4 321.6 818.2 324.0 819.0 326.3 819.7 328.7 820.5 331.1 821.4 333.4 822.2 335.8 823.0 338.1 823.9 340.5 824.8 342.8 825.7 345.2 826.6 347.5 827.5 349.8 828.5 352.1 829.5 354.4 830.5 356.7 831.6 359.0 832.7 361.2 833.8 363.5 835.0 365.7 836.2 367.9 837.4 370.1 838.7 372.2 840.1 374.4 841.4 376.5 842.9 378.6 844.3 380.7 845.9 382.7 847.5 384.8 849.1 386.7 850.8 388.6 852.6 390.4 854.4 392.1 856.3 393.7 858.3 395.1 860.4 396.4 862.5 397.5 864.7 398.3 867.0 398.9 869.4 399.3 871.8 399.5 874.3 399.5 876.8 399.2 879.3 398.8 881.8 398.2 884.2 397.5 886.7 396.6 889.0 395.6 891.3 394.4 893.5 393.2 895.6 391.8 897.7 390.3 899.7 388.8 901.6 387.1 903.4 385.4 905.2 383.6 906.9 381.8 908.6 379.9 910.2 377.9 911.8 375.9 913.3 373.8 914.8 371.8 916.2 369.7 917.6 367.5 918.9 365.4 920.2 363.3 921.5 361.1 922.8 359.0 924.0 356.8 925.3 354.7 926.5 352.5 927.7 350.3 928.9 348.2 930.2 346.0 931.4 343.9 932.7 341.8 934.0 339.6 935.2 337.5 936.5 335.4 937.8 333.3 939.1 331.1 940.4 329.0 941.7 326.9 942.9 324.8 944.2 322.6 945.5 320.5 946.8 318.3 948.0 316.2 949.2 314.0 950.5 311.8 951.7 309.7 952.9 307.5 954.1 305.3 955.2 303.0 956.4 300.8 957.5 298.6 958.6 296.3 959.8 294.1 961.0 291.9 962.2 289.7 963.4 287.5 964.8 285.4 966.2 283.3 967.6 281.2 969.2 279.3 970.9 277.4 972.7 275.5 974.6 273.7 976.7 272.1 978.9 270.5 981.1 269.1 983.5 267.8 985.9 266.7 988.3 265.9 990.7 265.3 993.1 265.0 995.5 264.9 997.7 265.2 999.9 265.9 1001.9 266.9 1003.9 268.2 1005.8 269.7 1007.5 271.4 1009.2 273.3 1010.8 275.4 1012.4 277.6 1013.9 279.8 1015.3 282.1 1016.6 284.4 1017.9 286.7 1019.2 289.0 1020.3 291.3 1021.5 293.5 1022.6 295.8 1023.7 298.1 1024.7 300.4 1025.8 302.7 1026.8 305.0 1027.7 307.3 1028.7 309.6 1029.7 311.9 1030.6 314.2 1031.5 316.5 1032.5 318.8 1033.4 321.1 1034.3 323.5 1035.1 325.8 1036.0 328.1 1036.9 330.4 1037.8 332.7 1038.6 335.0 1039.5 337.3 1040.3 339.7 1041.2 342.0 1042.0 344.3 1042.9 346.6 1043.7 348.9 1044.5 351.3 1045.4 353.6 1046.2 355.9 1047.1 358.2 1047.9 360.5 1048.8 362.9 1049.6 365.2 1050.5 367.5 1051.4 369.8 1052.2 372.2 1053.1 374.5 1054.0 376.8 1054.9 379.1 1055.8 381.4 1056.7 383.8 1057.6 386.1 1058.6 388.4 1059.5 390.7 1060.5 393.0 1061.5 395.3 1062.5 397.6 1063.5 399.9 1064.5 402.3 1065.6 404.6 1066.6 406.9 1067.7 409.2 1068.8 411.5 1069.9 413.7 1071.1 416.0 1072.2 418.3 1073.4 420.6 1074.6 422.8 1075.8 425.1 1077.0 427.3 1078.2 429.5 1079.5 431.7 1080.8 433.9 1082.1 436.1 1083.4 438.3 1084.7 440.5 1086.1 442.6 1087.4 444.7 1088.8 446.8 1090.3 448.9 1091.7 451.0 1093.2 453.1 1094.6 455.1 1096.1 457.1 1097.7 459.1 1099.2 461.1 1100.8 463.0 1102.4 464.9 1104.0 466.8 1105.6 468.7 1107.3 470.6 1109.0 472.4 1110.7 474.2 1112.4 476.0 1114.1 477.7 1115.9 479.4 1117.7 481.1 1119.5 482.7 1121.4 484.4 1123.2 485.9 1125.1 487.5 1127.1 489.0 1129.0 490.5 1131.0 491.9 1133.0 493.4 1135.0 494.7 1137.0 496.1 1139.1 497.4 1141.2 498.7 1143.3 500.0 1145.4 501.2 1147.6 502.4 1149.7 503.5 1151.9 504.7 1154.1 505.8 1156.4 506.9 1158.6 507.9 1160.8 509.0 1163.1 510.0 1165.4 511.0 1167.7 511.9 1170.0 512.8 1172.3 513.8 1174.7 514.6 1177.0 515.5 1179.4 516.3 1181.8 517.2 1184.2 518.0 1186.6 518.7 1189.0 519.5 1191.4 520.2 1193.8 520.9 1196.3 521.7 1198.7 522.3 1201.2 523.0 1203.6 523.6 1206.1 524.3 1208.5 524.9 1211.0 525.5 1213.5 526.1 1216.0 526.7 1218.5 527.2 1220.9 527.8 1223.4 528.3 1225.9 528.8 1228.4 529.3 1230.9 529.8 1233.4 530.3 1235.9 530.8 1238.3 531.3 1240.8 531.7 1243.3 532.2 1245.8 532.6 1248.3 533.1 1250.8 533.5 1253.2 533.9 1255.7 534.3 1258.2 534.7 1260.7 535.1 1263.2 535.4 1265.7 535.8 1268.1 536.2 1270.6 536.5 1273.1 536.9 1275.6 537.2 1278.1 537.5 1280.5 537.9 1283.0 538.2 1285.5 538.5 1288.0 538.8 1290.5 539.1 1292.9 539.3 1295.4 539.6 1297.9 539.9 1300.4 540.2 1302.8 540.4 1305.3 540.7 1307.8 540.9 1310.3 541.2 1312.8 541.4 1315.2 541.6 1317.7 541.8 1320.2 542.1 1322.7 542.3 1325.1 542.5 1327.6 542.7 1330.1 542.9 1332.6 543.1 1335.1 543.2 1337.5 543.4 1340.0 543.6 1342.5 543.8 1345.0 543.9 1347.5 544.1 1349.9 544.3 1352.4 544.4 1354.9 544.6 1357.4 544.7 1359.9 544.9 1362.3 545.0 1364.8 545.2 1367.3 545.3 1369.8 545.4 1372.3 545.6 1374.7 545.7 1377.2 545.8 1379.7 546.0 1382.2 546.1 1384.7 546.2 1387.2 546.3 1389.7 546.5 1392.1 546.6 1394.6 546.7 1397.1 546.8 1399.6 546.9 1402.1 547.0 1404.6 547.1 1407.1 547.3 1409.6 547.4 1412.1 547.5 1414.6 547.6 1417.0 547.7 1419.5 547.8 1422.0 547.9 1424.5 548.0 1427.0 548.2 1429.5 548.3 1432.0 548.4 1434.5 548.5 1437.0 548.6 1439.5 548.7 1442.0 548.8 1444.5 549.0 1447.0 549.1 1449.5 549.2 1452.0 549.3 1454.5 549.4 1457.0 549.6 1459.6 549.7 1462.1 549.8 1464.6 550.0 1467.1 550.1 1469.6 550.2 1472.1 550.3 1474.6 550.5 1477.1 550.6 1479.6 550.7 1482.1 550.8 1484.6 551.0 1487.2 551.1 1489.7 551.2 1492.2 551.4 1494.7 551.5 1497.2 551.6 1499.7 551.7 1502.2 551.9 1504.7 552.0 1507.2 552.1 1509.7 552.2 1512.3 552.4 1514.8 552.5 1517.3 552.6 1519.8 552.7 1522.3 552.9 1524.8 553.0 1527.3 553.1 1529.8 553.2 1532.3 553.3 1534.8 553.4 1537.3 553.6 1539.8 553.7 1542.3 553.8 1544.8 553.9 1547.3 554.0 1549.8 554.1 1552.3 554.2 1554.8 554.3 1557.3 554.4 1559.8 554.5 1562.3 554.6 1564.8 554.7 1567.2 554.7 1569.7 554.8 1572.2 554.9 1574.7 555.0 1577.2 555.1 1579.7 555.1 1582.1 555.2 1584.6 555.3 1587.1 555.3 1589.6 555.4 1592.0 555.5 1594.5 555.5 1597.0 555.6 1599.4 555.6 1601.9 555.7 1604.4 555.7 1606.8 555.7 1609.3 555.8 1611.7 555.8 1614.2 555.8 1616.6 555.9 1616.8 555.9" stroke="#1b1aa4" stroke-width="5.2" stroke-dasharray="4.9 7.5" stroke-dashoffset="8.2"/>
</g>
<g stroke="#000" stroke-width="5" fill="none">
<rect x="206.5" y="49.5" width="1413.0" height="1040.0"/>
</g>
<g stroke="#000" stroke-width="5">
<line x1="182" y1="97.0" x2="206" y2="97.0"/><line x1="182" y1="191.4" x2="206" y2="191.4"/><line x1="182" y1="285.9" x2="206" y2="285.9"/><line x1="182" y1="380.4" x2="206" y2="380.4"/><line x1="182" y1="474.8" x2="206" y2="474.8"/><line x1="182" y1="569.2" x2="206" y2="569.2"/><line x1="182" y1="663.7" x2="206" y2="663.7"/><line x1="182" y1="758.1" x2="206" y2="758.1"/><line x1="182" y1="852.6" x2="206" y2="852.6"/><line x1="182" y1="947.1" x2="206" y2="947.1"/><line x1="182" y1="1041.5" x2="206" y2="1041.5"/><line x1="429.5" y1="1089" x2="429.5" y2="1112.5"/><line x1="801.5" y1="1089" x2="801.5" y2="1112.5"/><line x1="1173.5" y1="1089" x2="1173.5" y2="1112.5"/><line x1="1545.5" y1="1089" x2="1545.5" y2="1112.5"/><line x1="243.5" y1="1089" x2="243.5" y2="1102.5"/><line x1="615.5" y1="1089" x2="615.5" y2="1102.5"/><line x1="987.5" y1="1089" x2="987.5" y2="1102.5"/><line x1="1359.5" y1="1089" x2="1359.5" y2="1102.5"/>
</g>
<g font-family="'Liberation Serif', 'Times New Roman', serif" fill="#000">
<g font-size="63.5" stroke="#fff" stroke-width="1.1"><text x="429.5" y="1172.3" text-anchor="middle">59</text><text x="801.5" y="1172.3" text-anchor="middle">60</text><text x="1173.5" y="1172.3" text-anchor="middle">61</text><text x="1545.5" y="1172.3" text-anchor="middle">62</text></g>
<text x="913" y="1282.7" font-size="71" text-anchor="middle">Frequency (THz)</text>
<text transform="translate(84.2 571) rotate(-90)" font-size="71" text-anchor="middle">Extinction (a.u.)</text>
<g font-size="61">
<text transform="translate(1345.4 140.6) scale(1 1.025)">R2=40nm</text>
<text transform="translate(1345.4 215.9) scale(1 1.025)">R2=50nm</text>
<text transform="translate(1345.4 290.9) scale(1 1.025)">R2=60nm</text>
</g>
</g>
<g fill="none">
<line x1="1191" y1="119.7" x2="1323" y2="119.7" stroke="#d2141a" stroke-width="6" stroke-dasharray="17.5 11.1"/>
<line x1="1191" y1="195" x2="1335.5" y2="195" stroke="#000" stroke-width="6"/>
<line x1="1192.5" y1="270" x2="1324" y2="270" stroke="#1b1aa4" stroke-width="5.2" stroke-dasharray="4.9 7.47"/>
</g>
</svg>
</body></html>
